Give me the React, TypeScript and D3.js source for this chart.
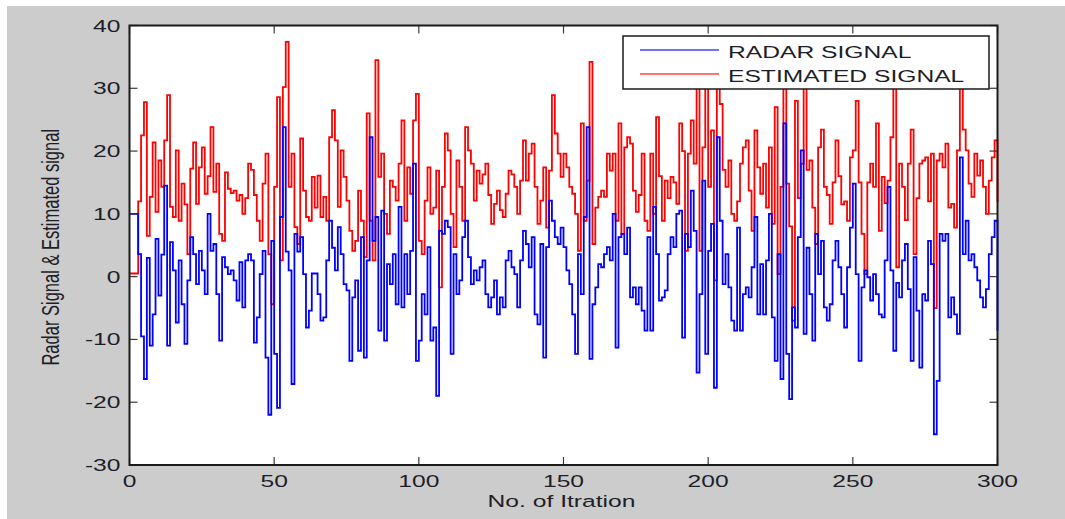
import React from "react";
import * as d3 from "d3";

const radarSignal: number[] = [
  10, 10, 10, 3.6, -9.5, -16.3, 3, -11, -6, 6,
  -3, 3.5, 14.5, -11, 5.5, 1, -7.3, 2.6, -4.4, -10.7,
  -0.6, 6.3, 3.6, -1.2, 4.1, 1, -2.8, 10, 4.1, 5.2,
  -2.8, -10.2, 3.1, 1.5, 0.4, 1, -0.6, -3.8, 2.3, -4.9,
  2.6, 3.6, 2.6, -10.5, -6.5, 0.4, 4.1, -12.9, -22, 5.7,
  -12.3, -20.9, 9.5, 23.8, 4, 1, -17.1, 6.8, 4, 6.3,
  0.4, -8.1, -5.4, 0.5, 0.5, -2.8, -7, -6.5, 2.6, 8.9,
  4.6, 1, 7.9, 3.6, -1.2, -2.2, -13.4, -3.3, -0.6, -11.8,
  6.3, -12.9, 2.6, 22.2, 5.7, 9.5, -8.6, 10.5, -10.2, 2,
  -1.2, 3.6, -4.4, 11.1, -4.9, 3.6, -2.8, 4.1, 18, -13.4,
  -10.2, -2.8, -6, 4.7, -10.2, -8.1, -19, 7.3, 6.8, 8.9,
  7.9, -12.3, 3.6, -2.8, -0.6, 6.3, 8.9, 3.1, -1.2, 1,
  -0.6, 1.5, 2.6, -2.8, -4.9, -3.3, -0.6, -6, -3.3, -4.9,
  2.6, 4.1, 1.5, 0.4, -4.9, 2.6, 7.3, 5.2, 1.5, 6.3,
  -6, -7.6, 5.2, -12.9, 4.7, 12.1, 8.9, 6.3, 5.2, 7.8,
  4.7, 1, -1.2, -6, -12.3, 3.6, -2.8, 9.5, 23.8, -13.1,
  -4.4, -1.7, 2, 1.5, 3.6, 4.7, 2.6, 10, -11.3, 6.3,
  6.8, 3.6, 7.8, -3.3, -1.7, -4.4, -1.7, -5.4, -8.6, 6.3,
  -8.6, 11.1, 3.6, -3.8, -3.3, -2.2, 3.6, 6.3, 4.7, 10,
  10.5, -9.7, 6.8, 4.7, 13.7, 7.3, -15.3, -2.8, 15.3, -12.3,
  4.1, 8.4, -17.7, 22.2, 8.9, -1.2, 3.6, -1.7, -7, -8.6,
  7.8, -8.6, -2.8, -1.7, -3.3, 1.5, 9.5, -6, 2, -6,
  2.6, 10, -6.5, -13.4, 3.6, -16.3, 24.4, -12.3, -19.5, -4.9,
  -8.1, 6.3, 20.1, -9.1, 4.6, -2.8, -10.2, 6.8, 0.4, 5.7,
  -4.9, -7, -4.4, 2.6, 5.7, 1.5, -2.8, -8.1, 1.5, 7.8,
  14.8, 0.4, -13.4, -1.7, 1, -0.1, -3.8, 0.4, -2.8, -6,
  -6.5, 2.6, 14.3, 1, -11.8, -1, -3.3, 2.6, 5.2, -2,
  -13.4, 3.1, -5.4, -14.5, -2.8, -3.8, 5.7, 2, -25.1, -16.6,
  6.8, 5.7, 6.8, -6.5, -3.3, -6, -9.1, 19, 3.6, 8.9,
  2.6, 3.6, 1.5, -0.6, -3.3, -4.9, -2, 3.6, 6.3, 8.9,
  -8.6,
];

const estimatedSignal: number[] = [
  0.5, 0.5, 0.5, 12, 22.5, 27.8, 6.5, 12.7, 21.4, 10.3,
  18.5, 14.3, 21.7, 28.9, 11.1, 9.5, 20.1, 8.9, 14.8, 11.5,
  3.6, 17.2, 21.4, 11.6, 17.4, 20.6, 13.2, 16, 23.8, 13.5,
  18, 6.8, 5.7, 16.6, 14, 13.3, 13.7, 12.1, 13, 10,
  12.5, 18, 17, 13, 8.9, 5.7, 14.8, 19.6, 3.6, -4.4,
  14.3, 28.6, 2.6, 30.2, 37.4, 14.3, 19.6, 7.9, 5.2, 22,
  13.7, 9.5, 8.9, 15.9, 11, 16.1, 9.5, 12.7, 8.9, 22.2,
  26.5, 21.7, 11.1, 20.1, 15.9, 12.1, 7.3, 4.1, 5.7, 13.7,
  8.9, 3.1, 26, 8.9, 2.6, 34.5, 15.9, 19.6, 10, 6.8,
  15.3, 14.3, 12.1, 18, 24.9, 8.9, 17.4, 13.2, 24.9, 29.1,
  5.7, 3.6, 12.1, 17.4, 10, 11, 16.9, -1.7, 14.3, 22.8,
  20.1, 10, 4.7, 18.5, 14.3, 8.9, 23.8, 20.1, 18, 12.1,
  16.9, 14.8, 16.3, 18, 13, 8.4, 11.6, 13.7, 10.6, 9.5,
  13.2, 16.9, 16.3, 14.3, 10, 15.3, 21.7, 15.3, 19.6, 21.2,
  14.3, 8.4, 12.1, 17.4, 7.8, 16.9, 28.9, 22.8, 19.6, 15.9,
  19.6, 17.4, 14.3, 13.2, 10, 4.1, 24.4, 8.9, 15.3, 34.2,
  5.2, 11, 12.7, 13.7, 12.7, 19.6, 16.9, 19.6, 8.9, 24.4,
  6.8, 20.6, 22.2, 21.2, 13.7, 10.3, 13, 19.6, 8.9, 7.3,
  19.6, 10, 25.4, 16, 8.9, 15.3, 12.5, 15.9, 15, 11.6,
  24.4, 20, 4.1, 19.6, 24.9, 18, 32, 4.1, 20.6, 32,
  14.3, 23.3, -0.6, 32, 27.5, 17, 14.3, 18.5, 10, 8.9,
  12, 18, 20.6, 21.7, 13.7, 7.3, 23.3, 17.4, 13.2, 18,
  11, 20.6, 8.4, 27, 0.4, 14.3, 32, 14.8, 8, -7,
  28, 12.5, 18, 32, 17, 18.5, 11, 5.2, 20.6, 23.4,
  14.3, 13, 8.4, 15, 21.7, 16, 11.5, 12, 8.9, 19,
  20.1, 28, 15, 6.8, 0.4, 15, 18, 14.3, 24.4, 7.3,
  15.9, 11.7, 15.3, 22.2, 31, 1.5, 18, 14.3, 9, 18,
  23.4, 3.6, 12.5, 18, 18.5, 19, 12, 19.6, -5, 18.5,
  19.6, 17.4, 21.2, 11, 11.6, 7.8, 20.1, 31, 23.4, 20.1,
  14.8, 12.7, 19.6, 16.1, 18.5, 14.3, 10, 15.3, 19, 21.7,
  11.9,
];

const xTicks: number[] = [0, 50, 100, 150, 200, 250, 300];
const yTicks: number[] = [-30, -20, -10, 0, 10, 20, 30, 40];
const seriesNames: string[] = ["RADAR SIGNAL", "ESTIMATED SIGNAL"];
const seriesColors: string[] = ["#0000ff", "#ff0000"];
const xLabel = "No. of Itration";
const yLabel = "Radar Signal & Estimated signal";

const W = 1065;
const H = 519;
const L = 129.5;
const R = 997.5;
const T = 25.5;
const B = 465;
const SX = 1.45;
const FONT = "'Liberation Sans', Arial, Helvetica, sans-serif";
const TXT = "#1e1e2a";

export default function App() {
  const x = d3.scaleLinear().domain([0, 300]).range([L, R]);
  const y = d3.scaleLinear().domain([-30, 40]).range([B, T]);
  const line = d3
    .line<number>()
    .x((_, i) => x(i))
    .y((d) => y(d))
    .curve(d3.curveStepAfter);

  const tickLen = 8;

  return (
    <svg
      width={W}
      height={H}
      style={{ position: "absolute", left: 0, top: 0, background: "#ffffff" }}
    >
      <rect x={7} y={6} width={W - 7} height={H - 6} fill="#cccccc" />
      <rect x={L} y={T} width={R - L} height={B - T} fill="#ffffff" />

      <g fill="none" strokeWidth={1.8} strokeLinejoin="miter">
        <path d={line(estimatedSignal) || ""} stroke={seriesColors[1]} />
        <path d={line(radarSignal) || ""} stroke={seriesColors[0]} />
      </g>

      <g stroke="#3a3a3a" strokeWidth={1.2}>
        {yTicks.map((t) => (
          <g key={"yt" + t}>
            <line x1={L} x2={L + tickLen} y1={y(t)} y2={y(t)} />
            <line x1={R} x2={R - tickLen} y1={y(t)} y2={y(t)} />
          </g>
        ))}
        {xTicks.map((t) => (
          <g key={"xt" + t}>
            <line x1={x(t)} x2={x(t)} y1={B} y2={B - tickLen} />
            <line x1={x(t)} x2={x(t)} y1={T} y2={T + tickLen} />
          </g>
        ))}
      </g>

      <rect
        x={L}
        y={T}
        width={R - L}
        height={B - T}
        fill="none"
        stroke="#1a1a1a"
        strokeWidth={2}
      />

      <g fontFamily={FONT} fontSize={17} fill={TXT}>
        {yTicks.map((t) => (
          <text
            key={"yl" + t}
            transform={`translate(${L - 9},${y(t) + 6}) scale(${SX},1)`}
            textAnchor="end"
          >
            {t}
          </text>
        ))}
        {xTicks.map((t) => (
          <text
            key={"xl" + t}
            transform={`translate(${x(t)},${B + 22}) scale(${SX},1)`}
            textAnchor="middle"
          >
            {t}
          </text>
        ))}
        <text
          transform={`translate(${(L + R) / 2 - 2},${B + 42}) scale(${SX},1)`}
          textAnchor="middle"
        >
          {xLabel}
        </text>
        <text
          transform={`translate(59,${(T + B) / 2 + 2}) scale(${SX},1) rotate(-90)`}
          textAnchor="middle"
          fontSize={16.5}
        >
          {yLabel}
        </text>
      </g>

      <g>
        <rect
          x={623}
          y={36}
          width={366}
          height={53}
          fill="#ffffff"
          stroke="#1a1a1a"
          strokeWidth={1.5}
        />
        {seriesNames.map((name, i) => (
          <g key={name}>
            <line
              x1={640}
              x2={719}
              y1={50 + i * 24}
              y2={50 + i * 24}
              stroke={seriesColors[i]}
              strokeOpacity={0.55}
              strokeWidth={2}
            />
            <text
              transform={`translate(728,${58 + i * 24}) scale(${SX},1)`}
              fontFamily={FONT}
              fontSize={17}
              fill={TXT}
            >
              {name}
            </text>
          </g>
        ))}
      </g>
    </svg>
  );
}
